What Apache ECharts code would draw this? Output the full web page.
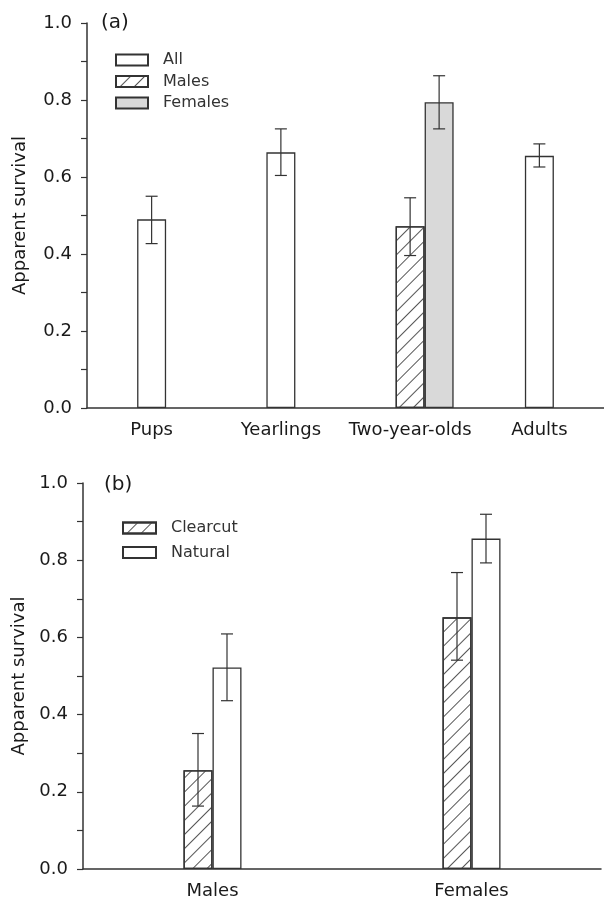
<!DOCTYPE html>
<html>
<head>
<meta charset="utf-8">
<script src="https://cdn.jsdelivr.net/npm/echarts@6/dist/echarts.min.js"></script>
<style>
html,body{margin:0;padding:0;background:#fff;}
#chart{width:604px;height:903px;}
</style>
</head>
<body>
<div id="chart"></div>
<script>
// ---- Panel (a) data ----
const categoriesA = ['Pups', 'Yearlings', 'Two-year-olds', 'Adults'];
const allVals   = [0.490, 0.664, null, 0.655];
const allLow    = [0.427, 0.604, null, 0.626];
const allHigh   = [0.550, 0.725, null, 0.686];
const malesVals = [null, null, 0.472, null];
const malesLow  = [null, null, 0.396, null];
const malesHigh = [null, null, 0.546, null];
const femalesVals = [null, null, 0.794, null];
const femalesLow  = [null, null, 0.725, null];
const femalesHigh = [null, null, 0.863, null];

// ---- Panel (b) data ----
const categoriesB = ['Males', 'Females'];
const clearcutVals = [0.256, 0.652];
const clearcutLow  = [0.163, 0.541];
const clearcutHigh = [0.351, 0.768];
const naturalVals  = [0.522, 0.856];
const naturalLow   = [0.436, 0.793];
const naturalHigh  = [0.609, 0.919];

const yTicks = [0, 0.2, 0.4, 0.6, 0.8, 1.0];

const FONT = 'DejaVu Sans, Liberation Sans, Arial, sans-serif';
const INK = '#333';
const TXT = '#1a1a1a';
const BAR_W = 29;

const hatch = {
  symbol: 'rect',
  symbolSize: 1,
  dashArrayX: [1, 0],
  dashArrayY: [1, 8.5],
  rotation: -Math.PI / 4,
  color: '#555'
};

function errData(low, high) {
  const out = [];
  low.forEach((l, i) => { if (l != null) out.push([i, l, high[i]]); });
  return out;
}

function errSeries(name, xi, yi, low, high, offset) {
  return {
    type: 'custom',
    name: name,
    xAxisIndex: xi,
    yAxisIndex: yi,
    z: 10,
    clip: false,
    encode: { x: 0, y: [1, 2] },
    data: errData(low, high),
    renderItem: function (params, api) {
      const x = api.value(0);
      const top = api.coord([x, api.value(2)]);
      const bot = api.coord([x, api.value(1)]);
      const cx = top[0] + offset;
      const cap = 6;
      const st = { stroke: INK, lineWidth: 1.2, fill: null };
      return {
        type: 'group',
        children: [
          { type: 'line', shape: { x1: cx, y1: top[1], x2: cx, y2: bot[1] }, style: st },
          { type: 'line', shape: { x1: cx - cap, y1: top[1], x2: cx + cap, y2: top[1] }, style: st },
          { type: 'line', shape: { x1: cx - cap, y1: bot[1], x2: cx + cap, y2: bot[1] }, style: st }
        ]
      };
    }
  };
}

function yAxisVisible(gi, nameGap) {
  return {
    type: 'value',
    gridIndex: gi,
    min: yTicks[0],
    max: yTicks[yTicks.length - 1],
    interval: 0.2,
    name: 'Apparent survival',
    nameLocation: 'middle',
    nameGap: nameGap,
    nameTextStyle: { fontSize: 18, color: TXT, fontFamily: FONT },
    axisLine: { show: true, lineStyle: { color: INK, width: 1.5 } },
    axisTick: { show: true, length: 6, lineStyle: { color: INK, width: 1.2 } },
    minorTick: { show: true, splitNumber: 2, length: 6, lineStyle: { color: INK, width: 1.2 } },
    splitLine: { show: false },
    axisLabel: { fontSize: 18, color: TXT, fontFamily: FONT, margin: 15,
      formatter: v => v.toFixed(1) }
  };
}

function xAxisVisible(gi, cats) {
  return {
    type: 'category',
    gridIndex: gi,
    data: cats,
    axisLine: { show: true, lineStyle: { color: INK, width: 1.5 } },
    axisTick: { show: false },
    splitLine: { show: false },
    axisLabel: { fontSize: 18, color: TXT, fontFamily: FONT, margin: 13, interval: 0 }
  };
}

const chart = echarts.init(document.getElementById('chart'), null, { renderer: 'canvas' });

const option = {
  animation: false,
  backgroundColor: '#fff',
  grid: [
    { left: 87, top: 23, width: 517, height: 385 },
    { left: 83, top: 483, width: 518, height: 386 }
  ],
  xAxis: [
    xAxisVisible(0, categoriesA),
    { type: 'category', gridIndex: 0, data: categoriesA, show: false },
    xAxisVisible(1, categoriesB)
  ],
  yAxis: [
    yAxisVisible(0, 58),
    yAxisVisible(1, 54)
  ],
  legend: [
    {
      data: ['All', 'Males', 'Females'],
      orient: 'vertical',
      left: 115, top: 52,
      padding: 0,
      itemWidth: 32, itemHeight: 11, itemGap: 5.5,
      selectedMode: false,
      icon: 'rect',
      textStyle: { fontSize: 16, color: '#333', fontFamily: FONT, padding: [0, 0, 0, 10] }
    },
    {
      data: ['Clearcut', 'Natural'],
      orient: 'vertical',
      left: 122, top: 520,
      padding: 0,
      itemWidth: 33, itemHeight: 11, itemGap: 8.5,
      selectedMode: false,
      icon: 'rect',
      textStyle: { fontSize: 16, color: '#333', fontFamily: FONT, padding: [0, 0, 0, 10] }
    }
  ],
  graphic: [
    { type: 'text', left: 101, top: 13, style: { text: '(a)', fill: TXT, font: '20px ' + FONT } },
    { type: 'text', left: 104, top: 475, style: { text: '(b)', fill: TXT, font: '20px ' + FONT } }
  ],
  series: [
    {
      type: 'bar', name: 'All', xAxisIndex: 0, yAxisIndex: 0,
      data: allVals, barWidth: BAR_W,
      itemStyle: { color: '#fff', borderColor: INK, borderWidth: 1.3 }
    },
    {
      type: 'bar', name: 'spacer', xAxisIndex: 1, yAxisIndex: 0,
      data: [null, null, null, null], barWidth: BAR_W, barGap: 0, silent: true
    },
    {
      type: 'bar', name: 'Males', xAxisIndex: 1, yAxisIndex: 0,
      data: malesVals, barWidth: BAR_W, barGap: 0,
      itemStyle: { color: '#fff', borderColor: INK, borderWidth: 1.3, decal: hatch }
    },
    {
      type: 'bar', name: 'Females', xAxisIndex: 1, yAxisIndex: 0,
      data: femalesVals, barWidth: BAR_W, barGap: 0,
      itemStyle: { color: '#d9d9d9', borderColor: INK, borderWidth: 1.3 }
    },
    errSeries('errAll', 0, 0, allLow, allHigh, 0),
    errSeries('errMales', 0, 0, malesLow, malesHigh, 0),
    errSeries('errFemales', 0, 0, femalesLow, femalesHigh, BAR_W),
    {
      type: 'bar', name: 'Clearcut', xAxisIndex: 2, yAxisIndex: 1,
      data: clearcutVals, barWidth: BAR_W, barGap: 0,
      itemStyle: { color: '#fff', borderColor: INK, borderWidth: 1.3, decal: hatch }
    },
    {
      type: 'bar', name: 'Natural', xAxisIndex: 2, yAxisIndex: 1,
      data: naturalVals, barWidth: BAR_W, barGap: 0,
      itemStyle: { color: '#fff', borderColor: INK, borderWidth: 1.3 }
    },
    errSeries('errClearcut', 2, 1, clearcutLow, clearcutHigh, -BAR_W / 2),
    errSeries('errNatural', 2, 1, naturalLow, naturalHigh, BAR_W / 2)
  ]
};

chart.setOption(option);
</script>
</body>
</html>
